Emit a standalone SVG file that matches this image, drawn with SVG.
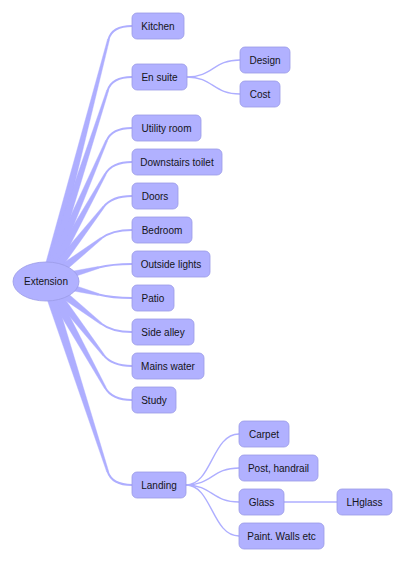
<svg xmlns="http://www.w3.org/2000/svg" width="406" height="563" viewBox="0 0 406 563">
<style>
.n rect,.n ellipse{fill:#b1b1ff;stroke:#9a9ae6;stroke-width:0.8}
.n text{font-family:"Liberation Sans",Arial,sans-serif;font-size:10px;fill:#141420;text-anchor:middle}
.t{fill:#aeaeff;stroke:#aeaeff;stroke-width:0.4;stroke-linejoin:round}
.c{fill:none;stroke:#aeaeff;stroke-width:2;stroke-linecap:round}
.f{fill:none;stroke:#aeaeff;stroke-width:1.4}
</style>
<rect width="406" height="563" fill="#ffffff"/>
<g id="connectors">
<polygon class="t" points="50.84,282.25 109.46,39.80 107.52,39.30 41.16,279.75"/>
<path class="c" d="M108.49,39.55 Q112,26 132,26"/>
<polygon class="t" points="50.76,282.54 108.64,90.63 106.74,90.01 41.24,279.46"/>
<path class="c" d="M107.69,90.32 Q112,77 132,77"/>
<polygon class="t" points="50.59,282.98 107.37,141.26 105.53,140.46 41.41,279.02"/>
<path class="c" d="M106.45,140.86 Q112,128 132,128"/>
<polygon class="t" points="50.37,283.43 106.08,174.73 104.34,173.76 41.63,278.58"/>
<path class="c" d="M105.21,174.24 Q112,162 132,162"/>
<polygon class="t" points="49.95,284.07 104.20,207.67 102.62,206.45 42.05,277.93"/>
<path class="c" d="M103.41,207.06 Q112,196 132,196"/>
<polygon class="t" points="49.06,284.96 101.53,239.35 100.31,237.77 42.94,277.04"/>
<path class="c" d="M100.92,238.56 Q112,230 132,230"/>
<polygon class="t" points="47.25,285.84 98.69,268.46 98.19,266.52 44.75,276.16"/>
<path class="c" d="M98.44,267.49 Q112,264 132,264"/>
<polygon class="t" points="44.75,285.84 98.19,295.48 98.69,293.54 47.25,276.16"/>
<path class="c" d="M98.44,294.51 Q112,298 132,298"/>
<polygon class="t" points="42.94,284.96 100.31,324.23 101.53,322.65 49.06,277.04"/>
<path class="c" d="M100.92,323.44 Q112,332 132,332"/>
<polygon class="t" points="42.05,284.07 102.62,355.55 104.20,354.33 49.95,277.93"/>
<path class="c" d="M103.41,354.94 Q112,366 132,366"/>
<polygon class="t" points="41.63,283.43 104.34,388.25 106.08,387.27 50.37,278.58"/>
<path class="c" d="M105.21,387.76 Q112,400 132,400"/>
<polygon class="t" points="41.24,282.54 106.74,471.99 108.64,471.37 50.76,279.46"/>
<path class="c" d="M107.69,471.68 Q112,485 132,485"/>
<path class="f" d="M187,77 C213,77 213,60 240,60"/>
<path class="f" d="M187,77 C213,77 213,94 240,94"/>
<path class="f" d="M186,485 C212,485 212,434 239,434"/>
<path class="f" d="M186,485 C212,485 212,468 239,468"/>
<path class="f" d="M186,485 C212,485 212,502 239,502"/>
<path class="f" d="M186,485 C212,485 212,536 239,536"/>
<path class="f" d="M284,502 L337,502"/>
</g>
<g id="extension" class="n"><ellipse cx="46" cy="281.5" rx="33" ry="19.5"/><text x="46" y="285">Extension</text></g>
<g id="kitchen" class="n"><rect x="132" y="13" width="52" height="26" rx="5"/><text x="158" y="29.5">Kitchen</text></g>
<g id="en-suite" class="n"><rect x="132" y="64" width="55" height="26" rx="5"/><text x="159.5" y="80.5">En suite</text></g>
<g id="design" class="n"><rect x="240" y="47" width="50" height="26" rx="5"/><text x="265" y="63.5">Design</text></g>
<g id="cost" class="n"><rect x="240" y="81" width="40" height="26" rx="5"/><text x="260" y="97.5">Cost</text></g>
<g id="utility-room" class="n"><rect x="132" y="115" width="69" height="26" rx="5"/><text x="166.5" y="131.5">Utility room</text></g>
<g id="downstairs-toilet" class="n"><rect x="132" y="149" width="90" height="26" rx="5"/><text x="177" y="165.5">Downstairs toilet</text></g>
<g id="doors" class="n"><rect x="132" y="183" width="46" height="26" rx="5"/><text x="155" y="199.5">Doors</text></g>
<g id="bedroom" class="n"><rect x="132" y="217" width="60" height="26" rx="5"/><text x="162" y="233.5">Bedroom</text></g>
<g id="outside-lights" class="n"><rect x="132" y="251" width="78" height="26" rx="5"/><text x="171" y="267.5">Outside lights</text></g>
<g id="patio" class="n"><rect x="132" y="285" width="42" height="26" rx="5"/><text x="153" y="301.5">Patio</text></g>
<g id="side-alley" class="n"><rect x="132" y="319" width="62" height="26" rx="5"/><text x="163" y="335.5">Side alley</text></g>
<g id="mains-water" class="n"><rect x="132" y="353" width="72" height="26" rx="5"/><text x="168" y="369.5">Mains water</text></g>
<g id="study" class="n"><rect x="132" y="387" width="44" height="26" rx="5"/><text x="154" y="403.5">Study</text></g>
<g id="landing" class="n"><rect x="132" y="472" width="54" height="26" rx="5"/><text x="159" y="488.5">Landing</text></g>
<g id="carpet" class="n"><rect x="239" y="421" width="50" height="26" rx="5"/><text x="264" y="437.5">Carpet</text></g>
<g id="post-handrail" class="n"><rect x="239" y="455" width="79" height="26" rx="5"/><text x="278.5" y="471.5">Post, handrail</text></g>
<g id="glass" class="n"><rect x="239" y="489" width="45" height="26" rx="5"/><text x="261.5" y="505.5">Glass</text></g>
<g id="lhglass" class="n"><rect x="337" y="489" width="55" height="26" rx="5"/><text x="364.5" y="505.5">LHglass</text></g>
<g id="paint-walls" class="n"><rect x="239" y="523" width="85" height="26" rx="5"/><text x="281.5" y="539.5">Paint. Walls etc</text></g>
</svg>
